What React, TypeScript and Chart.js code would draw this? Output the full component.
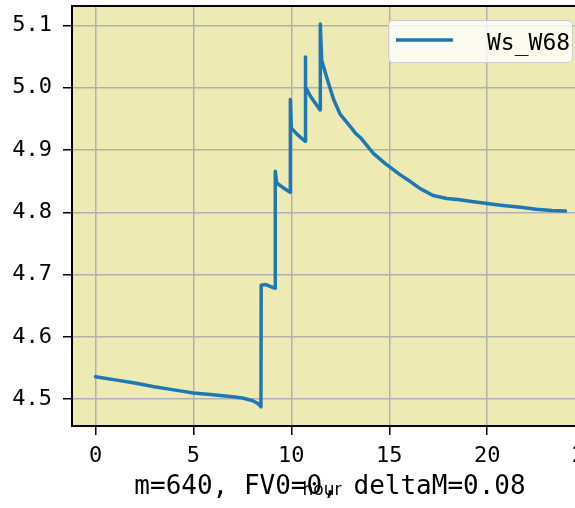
import React, { useEffect, useRef } from 'react';
import { Chart, registerables } from 'chart.js';

Chart.register(...registerables);

// ---- data ----
const hours = [
  0, 1, 2, 3, 4, 5, 6, 7, 7.5, 8.0, 8.3, 8.45,
  8.46, 8.7, 9.17,
  9.18, 9.25, 9.6, 9.94,
  9.95, 10.0, 10.3, 10.7,
  10.71, 10.74, 11.0, 11.47,
  11.48, 11.55, 11.85, 12.16, 12.5, 13.0, 13.27, 13.52, 14.2, 14.8, 15.56, 16.0,
  16.58, 17.24, 17.94, 18.6, 19.3, 20.0, 20.8, 21.7, 22.5, 23.3, 24.0,
];
const ws = [
  4.536, 4.531, 4.526, 4.520, 4.515, 4.510, 4.507, 4.504, 4.502, 4.498, 4.493, 4.488,
  4.683, 4.684, 4.678,
  4.866, 4.847, 4.839, 4.832,
  4.981, 4.935, 4.925, 4.914,
  5.049, 5.001, 4.985, 4.964,
  5.102, 5.044, 5.012, 4.981, 4.957, 4.938, 4.927, 4.920, 4.894, 4.878, 4.860, 4.851,
  4.838, 4.827, 4.822, 4.820, 4.817, 4.814, 4.811, 4.808, 4.805, 4.803, 4.802,
];
const xTicks = [0, 5, 10, 15, 20, 25];
const yTicks = [4.5, 4.6, 4.7, 4.8, 4.9, 5.0, 5.1];
const seriesLabel = 'Ws_W68';
const xTitle = 'hour';
const caption = 'm=640, FV0=0, deltaM=0.08';

const MONO = '"DejaVu Sans Mono", monospace';

export default function App() {
  const ref = useRef<HTMLCanvasElement>(null);

  useEffect(() => {
    if (!ref.current) return;

    const decor = {
      id: 'decor',
      beforeDraw(chart: any) {
        const { ctx, chartArea: a } = chart;
        ctx.save();
        ctx.fillStyle = '#eeeab4';
        ctx.fillRect(a.left, a.top, a.right - a.left, a.bottom - a.top);
        ctx.restore();
      },
      afterDraw(chart: any) {
        const { ctx, chartArea: a } = chart;
        ctx.save();
        // top / right frame
        ctx.strokeStyle = '#000';
        ctx.lineWidth = 2;
        ctx.beginPath();
        ctx.moveTo(a.left, a.top);
        ctx.lineTo(a.right, a.top);
        ctx.lineTo(a.right, a.bottom);
        ctx.stroke();

        // legend
        const lx = a.right - 201;
        const ly = a.top + 14;
        ctx.beginPath();
        (ctx as any).roundRect(lx + 0.5, ly + 0.5, 184, 42, 4);
        ctx.fillStyle = 'rgba(255,255,255,0.8)';
        ctx.fill();
        ctx.strokeStyle = '#cccccc';
        ctx.lineWidth = 1;
        ctx.stroke();
        ctx.strokeStyle = '#1f77b4';
        ctx.lineWidth = 3.5;
        ctx.beginPath();
        ctx.moveTo(lx + 8, ly + 20);
        ctx.lineTo(lx + 65, ly + 20);
        ctx.stroke();
        ctx.fillStyle = '#000';
        ctx.font = `23px ${MONO}`;
        ctx.textAlign = 'left';
        ctx.textBaseline = 'alphabetic';
        ctx.fillText(seriesLabel, lx + 99, ly + 30);

        // caption and x title
        ctx.font = `26px ${MONO}`;
        ctx.textAlign = 'center';
        ctx.fillText(caption, 330, 494);
        ctx.font = '17px "DejaVu Sans"';
        ctx.fillText(xTitle, 322, 495);
        ctx.restore();
      },
    };

    const chart = new Chart(ref.current, {
      type: 'line',
      data: {
        datasets: [
          {
            label: seriesLabel,
            data: hours.map((h, i) => ({ x: h, y: ws[i] })),
            borderColor: '#1f77b4',
            backgroundColor: '#1f77b4',
            borderWidth: 3.5,
            pointRadius: 0,
            tension: 0,
            fill: false,
            borderJoinStyle: 'round',
            borderCapStyle: 'round',
          },
        ],
      },
      options: {
        animation: false,
        responsive: false,
        devicePixelRatio: 1,
        layout: { padding: { left: 0, top: 6, right: 16, bottom: 0 }, autoPadding: false },
        plugins: {
          legend: { display: false },
          tooltip: { enabled: false },
          title: { display: false },
        },
        scales: {
          x: {
            type: 'linear',
            min: -1.2,
            max: 25.2,
            afterBuildTicks: (s: any) => {
              s.ticks = xTicks.map((v) => ({ value: v }));
            },
            afterFit: (s: any) => {
              s.height = 82;
              s.paddingLeft = 0;
              s.paddingRight = 0;
              s.paddingTop = 0;
              s.paddingBottom = 0;
            },
            ticks: {
              font: { family: MONO, size: 22 },
              color: '#000',
              padding: 8,
              maxRotation: 0,
              autoSkip: false,
              callback: (v: any) => String(v),
            },
            grid: { color: '#b0b0b0', lineWidth: 1.5, tickColor: '#000', tickLength: 9, tickWidth: 1.5 },
            border: { color: '#000', width: 2 },
          },
          y: {
            type: 'linear',
            min: 4.457,
            max: 5.131,
            afterBuildTicks: (s: any) => {
              s.ticks = yTicks.map((v) => ({ value: v }));
            },
            afterFit: (s: any) => {
              s.width = 72;
              s.paddingLeft = 0;
              s.paddingRight = 0;
              s.paddingTop = 0;
              s.paddingBottom = 0;
            },
            ticks: {
              font: { family: MONO, size: 22 },
              color: '#000',
              padding: 11,
              autoSkip: false,
              callback: (v: any) => Number(v).toFixed(1),
            },
            grid: { color: '#b0b0b0', lineWidth: 1.5, tickColor: '#000', tickLength: 9, tickWidth: 1.5 },
            border: { color: '#000', width: 2 },
          },
        },
      },
      plugins: [decor],
    } as any);

    return () => chart.destroy();
  }, []);

  return (
    <div
      style={{
        position: 'fixed',
        left: 0,
        top: 0,
        width: 575,
        height: 508,
        overflow: 'hidden',
        background: '#fff',
      }}
    >
      <canvas ref={ref} width={605} height={508} style={{ display: 'block', width: 605, height: 508 }} />
    </div>
  );
}
